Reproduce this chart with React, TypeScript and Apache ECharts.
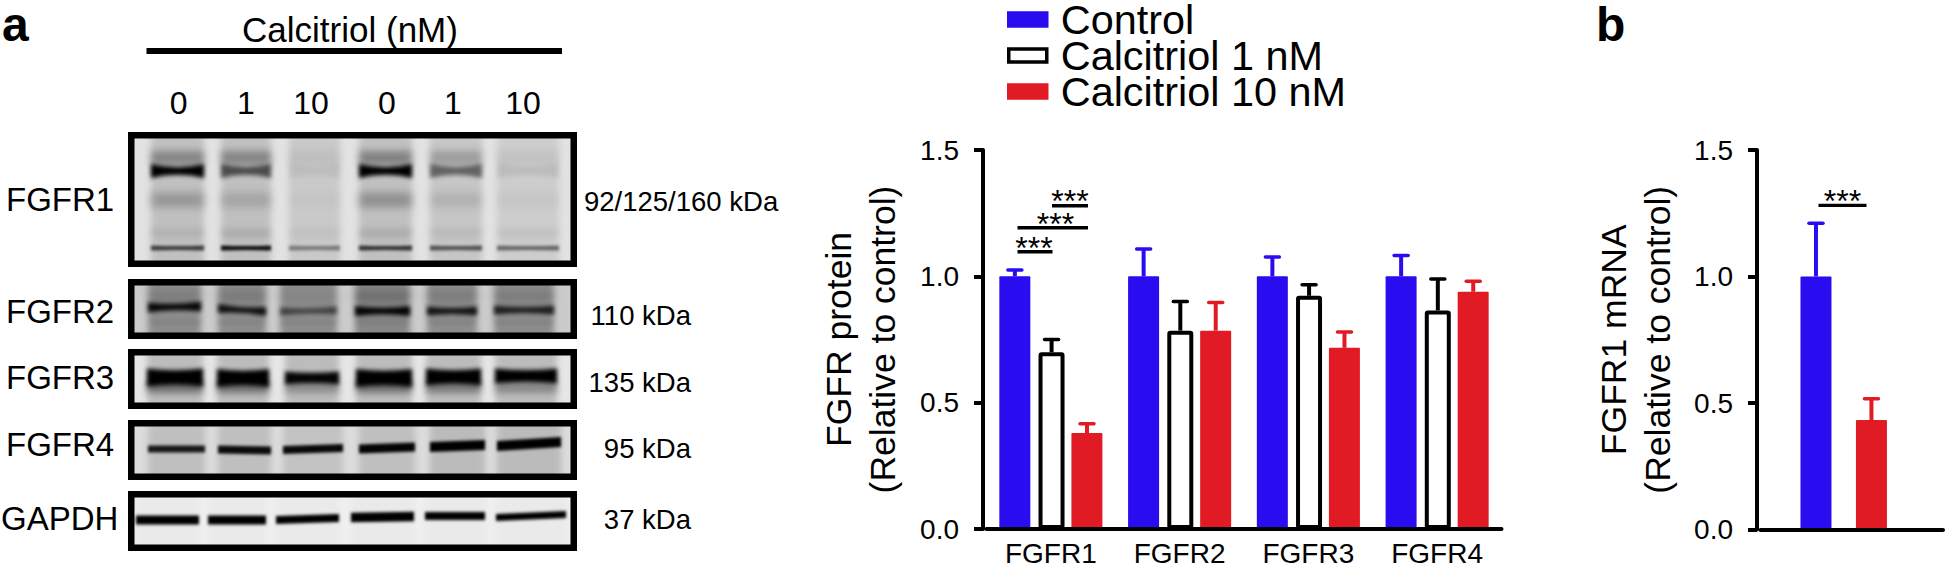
import React, { useEffect, useRef } from "react";
import * as echarts from "echarts";

const FONT = '"Liberation Sans", Arial, sans-serif';
const BLUE = "#2A0CF0";
const RED = "#E11B23";

const proteinCategories = ["FGFR1", "FGFR2", "FGFR3", "FGFR4"];
const seriesNames = ["Control", "Calcitriol 1 nM", "Calcitriol 10 nM"];
const controlValues = [1.0, 1.0, 1.0, 1.0];
const controlTops = [1.025, 1.108, 1.077, 1.082];
const dose1Values = [0.7, 0.785, 0.923, 0.865];
const dose1Tops = [0.75, 0.9, 0.967, 0.989];
const dose10Values = [0.38, 0.785, 0.717, 0.939];
const dose10Tops = [0.417, 0.896, 0.78, 0.981];

const mrnaControl = 1.0;
const mrnaControlTop = 1.21;
const mrnaDose10 = 0.433;
const mrnaDose10Top = 0.517;

const doseLabels = ["0", "1", "10", "0", "1", "10"];
const blotNames = ["FGFR1", "FGFR2", "FGFR3", "FGFR4", "GAPDH"];
const blotSizes = ["92/125/160 kDa", "110 kDa", "135 kDa", "95 kDa", "37 kDa"];

type Band = { y: number | number[]; h: number | number[]; d: number[]; pinch?: number; tilt?: number[]; blur?: number };
type Blot = { box: number[]; gutter: string; laneDark: number[]; lanes: number[][]; bands: Band[] };

const blots: Blot[] = [
  {
    box: [128, 132, 449, 135],
    gutter: "#e2e2e2",
    laneDark: [0.15, 0.15, 0.11, 0.15, 0.12, 0.09],
    lanes: [[151, 204], [221, 271], [289, 340], [359, 412], [430, 482], [497, 559]],
    bands: [
      { y: 158, h: 14, d: [0.3, 0.3, 0.05, 0.32, 0.2, 0.05], blur: 3.5 },
      { y: 171, h: 14, d: [1, 0.6, 0.06, 1, 0.5, 0.08], pinch: 0.45, blur: 2.2 },
      { y: 200, h: 14, d: [0.22, 0.14, 0.02, 0.26, 0.1, 0.03], blur: 4 },
      { y: 233, h: 9, d: [0.08, 0.1, 0.04, 0.1, 0.06, 0.06], blur: 3 },
      { y: 248, h: 5, d: [0.7, 0.95, 0.4, 0.75, 0.6, 0.5], pinch: 0.2, blur: 1.5 },
    ],
  },
  {
    box: [128, 279, 449, 60],
    gutter: "#cbcbcb",
    laneDark: [0.3, 0.3, 0.3, 0.33, 0.3, 0.3],
    lanes: [[148, 201], [218, 266], [280, 337], [355, 410], [427, 477], [494, 554]],
    bands: [
      { y: 296, h: 11, d: [0.12, 0.14, 0.06, 0.2, 0.12, 0.12], blur: 4 },
      { y: [307, 310, 311, 311, 311, 310], h: [10, 9, 8, 10, 9, 9], d: [0.95, 0.9, 0.55, 0.98, 0.88, 0.8], pinch: 0.35, tilt: [-1, 3, -1, 0, 0, 0], blur: 1.9 },
      { y: 322, h: 5, d: [0.07, 0.07, 0.07, 0.07, 0.07, 0.07], blur: 2 },
    ],
  },
  {
    box: [128, 349, 449, 60],
    gutter: "#e6e6e6",
    laneDark: [0.18, 0.18, 0.18, 0.18, 0.18, 0.18],
    lanes: [[147, 203], [217, 269], [285, 339], [356, 412], [426, 481], [495, 557]],
    bands: [
      { y: 387, h: 12, d: [0.4, 0.4, 0.25, 0.4, 0.35, 0.28], blur: 3 },
      { y: [377.5, 378, 378, 378, 377, 376], h: [18, 18, 13, 18, 17, 15], d: [1, 1, 0.98, 1, 1, 1], pinch: 0.2, blur: 1.9 },
    ],
  },
  {
    box: [128, 420, 449, 60],
    gutter: "#dcdcdc",
    laneDark: [0.13, 0.13, 0.11, 0.13, 0.15, 0.15],
    lanes: [[148, 205], [218, 271], [283, 343], [359, 415], [430, 485], [497, 561]],
    bands: [
      { y: [449, 450, 449, 448, 446, 444], h: [7, 8, 8, 9, 10, 10], d: [0.88, 0.95, 0.96, 0.98, 1, 1], tilt: [0, 1, -2, -2, -2, -4], blur: 1.6 },
    ],
  },
  {
    box: [128, 491, 449, 60],
    gutter: "#efefef",
    laneDark: [0.02, 0.02, 0.02, 0.02, 0.02, 0.02],
    lanes: [[136, 199], [208, 266], [276, 339], [351, 414], [425, 485], [496, 566]],
    bands: [
      { y: [520, 520, 519, 517, 516, 516], h: [9, 9, 8, 9.5, 8, 7], d: [1, 1, 1, 1, 1, 1], tilt: [0, 0, -2, -1, 0, -3], blur: 1.6 },
    ],
  },
];

function paintBlot(b: Blot): string {
  const [bx, by, bw, bh] = b.box;
  const cv = document.createElement("canvas");
  cv.width = bw;
  cv.height = bh;
  const ctx = cv.getContext("2d") as any;
  ctx.fillStyle = b.gutter;
  ctx.fillRect(0, 0, bw, bh);
  b.lanes.forEach(([x0, x1], i) => {
    ctx.filter = "blur(3px)";
    ctx.fillStyle = `rgba(0,0,0,${b.laneDark[i]})`;
    ctx.fillRect(x0 - bx, -10, x1 - x0, bh + 20);
  });
  b.bands.forEach((band) => {
    ctx.filter = `blur(${band.blur ?? 1.4}px)`;
    b.lanes.forEach(([x0, x1], i) => {
      const yc = (Array.isArray(band.y) ? band.y[i] : band.y) - by;
      const t = Array.isArray(band.h) ? band.h[i] : band.h;
      const tilt = band.tilt ? band.tilt[i] : 0;
      const l = x0 - bx;
      const r = x1 - bx;
      const m = (l + r) / 2;
      const mid = (t / 2) * (1 - (band.pinch ?? 0));
      ctx.fillStyle = `rgba(0,0,0,${band.d[i]})`;
      ctx.beginPath();
      ctx.moveTo(l, yc - t / 2 - tilt / 2);
      ctx.quadraticCurveTo(m, yc + t / 2 - 2 * mid, r, yc - t / 2 + tilt / 2);
      ctx.lineTo(r, yc + t / 2 + tilt / 2);
      ctx.quadraticCurveTo(m, yc - t / 2 + 2 * mid, l, yc + t / 2 - tilt / 2);
      ctx.closePath();
      ctx.fill();
    });
  });
  ctx.filter = "none";
  return cv.toDataURL("image/png");
}

const txt = (text: string, x: number, y: number, size: number, align = "center", weight = "normal") => ({
  type: "text",
  x,
  y,
  z: 20,
  style: { text, fontFamily: FONT, fontSize: size, fontWeight: weight, fill: "#000", align, verticalAlign: "middle" },
});

const rule = (x1: number, x2: number, y: number, w: number) => ({
  type: "line",
  z: 20,
  shape: { x1, y1: y, x2, y2: y },
  style: { stroke: "#000", lineWidth: w },
});

const errorSeries = (name: string, color: string, rows: number[][], xi: number, yi: number, shift: number) => ({
  type: "custom",
  name,
  xAxisIndex: xi,
  yAxisIndex: yi,
  z: 4,
  silent: true,
  data: rows,
  encode: { x: 0, y: 1 },
  renderItem: (_p: any, api: any) => {
    const base = api.coord([api.value(0), api.value(1)]);
    const top = api.coord([api.value(0), api.value(2)]);
    const x = base[0] + shift;
    return {
      type: "group",
      children: [
        { type: "line", shape: { x1: x, y1: base[1], x2: x, y2: top[1] }, style: { stroke: color, lineWidth: 4 } },
        { type: "line", shape: { x1: x - 7, y1: top[1], x2: x + 7, y2: top[1] }, style: { stroke: color, lineWidth: 3.5, lineCap: "round" } },
      ],
    };
  },
});

const rowsOf = (vals: number[], tops: number[]) => vals.map((v, i) => [i, v, tops[i]]);

const baseY = (name: string, gap: number, grid: number) => ({
  type: "value",
  gridIndex: grid,
  min: 0,
  max: 1.5,
  interval: 0.5,
  offset: 3.5,
  name,
  nameLocation: "middle",
  nameRotate: 90,
  nameGap: gap,
  nameTextStyle: { fontFamily: FONT, fontSize: 35.5, lineHeight: 44, color: "#000" },
  axisLine: { show: true, onZero: false, lineStyle: { color: "#000", width: 4 } },
  axisTick: { show: true, length: 9, lineStyle: { color: "#000", width: 4 } },
  axisLabel: { margin: 24, fontFamily: FONT, fontSize: 28, color: "#000", formatter: (v: number) => v.toFixed(1) },
  splitLine: { show: false },
});

const legendColors = [BLUE, "#000", RED];

export default function App() {
  const ref = useRef<HTMLDivElement>(null);
  useEffect(() => {
    if (!ref.current) return;
    const chart = echarts.init(ref.current, undefined, { renderer: "svg" });

    const graphics: any[] = [];
    blots.forEach((b) => {
      const [x, y, w, h] = b.box;
      graphics.push({ type: "image", z: 10, style: { image: paintBlot(b), x, y, width: w, height: h } });
      graphics.push({ type: "rect", z: 11, shape: { x: x + 3.25, y: y + 3.25, width: w - 6.5, height: h - 6.5 }, style: { fill: "none", stroke: "#000", lineWidth: 6.5 } });
    });
    [178.6, 246, 311, 387, 453, 523].forEach((x, i) => graphics.push(txt(doseLabels[i], x, 103, 32)));
    graphics.push(txt("Calcitriol (nM)", 350, 29, 35));
    graphics.push(rule(146.5, 562, 51, 6));
    [199, 311, 377, 444, 518].forEach((y, i) => graphics.push(txt(blotNames[i], i === 4 ? 1 : 6, y, 33, "left")));
    graphics.push(txt(blotSizes[0], 584, 201, 27.5, "left"));
    [315, 382, 448, 519].forEach((y, i) => graphics.push(txt(blotSizes[i + 1], 691, y, 27.5, "right")));
    graphics.push(txt("a", 2, 24, 48, "left", "bold"));
    graphics.push(txt("b", 1596, 24, 48, "left", "bold"));
    graphics.push(rule(1017.5, 1052.5, 251.7, 3.4), rule(1017.5, 1088, 227.7, 3.4), rule(1052, 1088, 205.7, 3.4), rule(1818.5, 1866.5, 205.4, 3.4));
    graphics.push(txt("***", 1034, 248, 32), txt("***", 1055.5, 224, 32), txt("***", 1070, 201, 32), txt("***", 1842.5, 201, 32));

    const option: any = {
      animation: false,
      backgroundColor: "#fff",
      legend: {
        data: seriesNames.map((name, i) => ({ name, itemStyle: { borderColor: legendColors[i], borderWidth: 3.5 } })),
        orient: "vertical",
        left: 1002,
        top: -6,
        icon: "rect",
        itemWidth: 38,
        itemHeight: 13,
        itemGap: -5,
        selectedMode: false,
        textStyle: { fontFamily: FONT, fontSize: 41.4, lineHeight: 36, color: "#000", padding: [0, 0, 0, 9] },
      },
      grid: [
        { left: 986.5, top: 150, width: 515, height: 379.5 },
        { left: 1760.5, top: 150, width: 182.5, height: 379.5 },
      ],
      xAxis: [
        {
          type: "category",
          gridIndex: 0,
          data: proteinCategories,
          z: 5,
          axisLine: { lineStyle: { color: "#000", width: 4 } },
          axisTick: { show: false },
          axisLabel: { margin: 10, fontFamily: FONT, fontSize: 28, color: "#000" },
        },
        {
          type: "value",
          gridIndex: 1,
          min: -1,
          max: 2.29,
          z: 5,
          axisLine: { show: true, onZero: false, lineStyle: { color: "#000", width: 4 } },
          axisTick: { show: false },
          axisLabel: { show: false },
          splitLine: { show: false },
        },
      ],
      yAxis: [baseY("FGFR protein\n(Relative to control)", 78, 0), baseY("FGFR1 mRNA\n(Relative to control)", 77, 1)],
      series: [
        { type: "bar", name: seriesNames[0], xAxisIndex: 0, yAxisIndex: 0, data: controlValues, barWidth: 31, barGap: "26.45%", itemStyle: { color: BLUE, borderRadius: 1 } },
        { type: "bar", name: seriesNames[1], xAxisIndex: 0, yAxisIndex: 0, data: dose1Values, barWidth: 26, barGap: "26.45%", itemStyle: { color: "#fff", borderColor: "#000", borderWidth: 4, borderRadius: 1 } },
        { type: "bar", name: seriesNames[2], xAxisIndex: 0, yAxisIndex: 0, data: dose10Values, barWidth: 31, barGap: "26.45%", itemStyle: { color: RED, borderRadius: 1 } },
        errorSeries("Control SD", BLUE, rowsOf(controlValues, controlTops), 0, 0, -36),
        errorSeries("Calcitriol 1 nM SD", "#000", rowsOf(dose1Values, dose1Tops), 0, 0, 0.7),
        errorSeries("Calcitriol 10 nM SD", RED, rowsOf(dose10Values, dose10Tops), 0, 0, 36.1),
        { type: "bar", name: seriesNames[0], xAxisIndex: 1, yAxisIndex: 1, data: [[0, mrnaControl]], barWidth: 31, barGap: "-100%", itemStyle: { color: BLUE, borderRadius: 1 } },
        { type: "bar", name: seriesNames[2], xAxisIndex: 1, yAxisIndex: 1, data: [[1, mrnaDose10]], barWidth: 31, barGap: "-100%", itemStyle: { color: RED, borderRadius: 1 } },
        errorSeries("mRNA Control SD", BLUE, [[0, mrnaControl, mrnaControlTop]], 1, 1, 0),
        errorSeries("mRNA Calcitriol SD", RED, [[1, mrnaDose10, mrnaDose10Top]], 1, 1, 0),
      ],
      graphic: { elements: graphics },
    };
    chart.setOption(option);
    return () => chart.dispose();
  }, []);
  return <div ref={ref} style={{ position: "absolute", left: 0, top: 0, width: 1946, height: 567 }} />;
}
